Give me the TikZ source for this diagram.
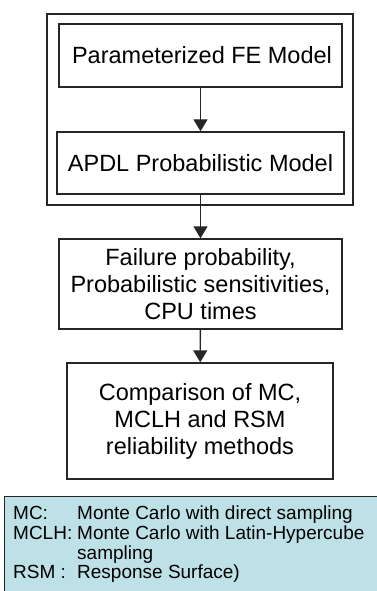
\documentclass[tikz,border=0pt]{standalone}
\usepackage{fontspec}
\setmainfont{Liberation Sans}
\usetikzlibrary{arrows.meta}
\definecolor{legendblue}{RGB}{190,225,232}
\begin{document}
\begin{tikzpicture}[x=1pt, y=-1pt]
      \tikzstyle{stepbox}=[draw=black!85, line width=1.4pt, align=center,
        inner sep=0pt, font=\fontsize{23.5}{27}\selectfont]
      \tikzstyle{flow}=[draw=black!85, line width=1.4pt,
        -{Triangle[width=14pt,length=12pt]}]
      \useasboundingbox (0,0) rectangle (377,591);

      % outer frame
      \node[stepbox, minimum width=306pt, minimum height=191pt] (group) at (200,109.5) {};

      % model boxes
      \node[stepbox, minimum width=283pt, minimum height=63pt] (fe) at (200.5,55.5)
        {\hspace{3pt}Parameterized FE Model};
      \node[stepbox, minimum width=287pt, minimum height=62pt] (apdl) at (200.5,163)
        {APDL Probabilistic Model};

      % results
      \node[stepbox, minimum width=283pt, minimum height=90pt] (fail) at (200.5,284)
        {Failure probability,\\Probabilistic sensitivities,\\CPU times};
      \node[stepbox, minimum width=266pt, minimum height=116pt] (comp) at (200,421)
        {Comparison of MC,\\MCLH and RSM\\reliability methods};

      \draw[flow] (fe) -- (apdl);
      \draw[flow] (apdl) -- (fail);
      \draw[flow] (fail) -- (comp);

      % legend
      \node[draw=black!85, line width=1.4pt, fill=legendblue, anchor=north west,
        minimum width=380pt, minimum height=110pt, inner sep=0pt] (legend) at (4,496) {};
      \node[anchor=north west, inner sep=0pt, align=left,
        font=\fontsize{19}{19.5}\selectfont] (keys) at (13,506)
        {\begin{tabular}{@{}p{64pt}@{}l@{}}
          MC: & Monte Carlo with direct sampling\\
          MCLH: & Monte Carlo with Latin-Hypercube\\
          & sampling\\
          RSM : & Response Surface)
        \end{tabular}};
    \end{tikzpicture}
\end{document}
